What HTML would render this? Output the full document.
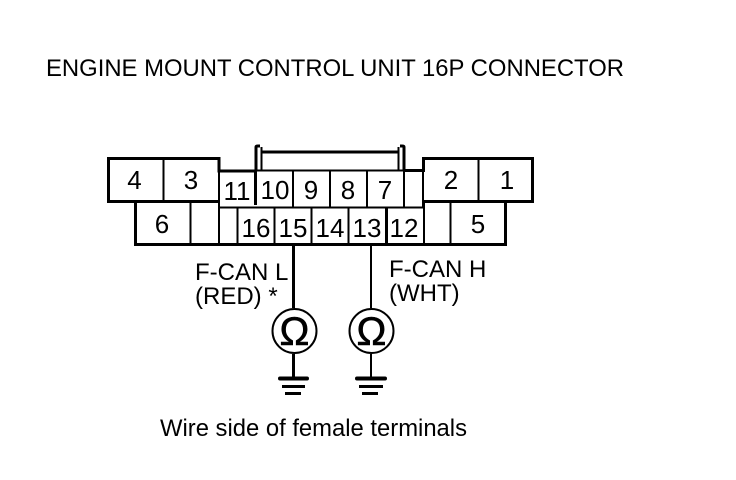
<!DOCTYPE html>
<html><head><meta charset="utf-8"><style>
html,body{margin:0;padding:0;background:#fff}
svg{display:block}
text{font-family:"Liberation Sans",sans-serif;fill:#000}
</style></head><body>
<svg width="736" height="480" viewBox="0 0 736 480" xmlns="http://www.w3.org/2000/svg">
<rect width="736" height="480" fill="#fff"/>
<text x="46" y="76" font-size="24" textLength="578" lengthAdjust="spacingAndGlyphs">ENGINE MOUNT CONTROL UNIT 16P CONNECTOR</text>
<g fill="none" stroke="#000" stroke-width="3">
<path d="M219 158.500H108.500V201.500H135.500V244.500H505.500V201.500H532.500V158.500H423.500V170.500H405"/>
<path d="M219 157V171H256"/>
<path d="M256 171V147Q256 146 258 146H260"/>
<path d="M404 171V147Q404 146 402 146H400"/>
<path d="M262 152H398"/>
<path d="M135 201.500H219M422 201.500H532"/>
<path d="M255.500 171V205"/>
<path d="M386.500 207V244"/>
<path d="M293.500 245V308M293.500 354V378"/>
</g>
<g fill="none" stroke="#000" stroke-width="2">
<path d="M256 170.500H405"/>
<path d="M163.500 158V201M478.500 158V201M219 170V207M293 171V207M330 171V207M367 171V207M404 171V207M423 158V207"/>
<path d="M219 207.500H424"/>
<path d="M190.500 202V244M219 202V244M237.500 208V244M274.500 208V244M311.500 208V244M348.500 208V244M424 202V244M450.500 202V244"/>
<path d="M261.500 147V171M398.500 147V171"/>
<path d="M371 245V308M371 354V378"/>
<circle cx="294.500" cy="331" r="22"/>
<circle cx="371.500" cy="331" r="22"/>
</g>
<g fill="#000">
<rect x="278" y="376.500" width="31" height="4" rx="2"/>
<rect x="282" y="385" width="23" height="3"/>
<rect x="285" y="392" width="16" height="3"/>
<rect x="355" y="376.500" width="32" height="4" rx="2"/>
<rect x="359" y="385" width="24" height="3"/>
<rect x="362" y="392" width="16" height="3"/>
</g>
<g font-size="26" text-anchor="middle">
<text x="134.500" y="189">4</text>
<text x="191" y="189">3</text>
<text x="451" y="189">2</text>
<text x="507" y="189">1</text>
<text x="162" y="233">6</text>
<text x="478" y="233">5</text>
<text x="237" y="200">11</text>
<text x="275" y="199">10</text>
<text x="311" y="199">9</text>
<text x="348" y="199">8</text>
<text x="385" y="199">7</text>
<text x="256" y="237">16</text>
<text x="293" y="237">15</text>
<text x="330" y="237">14</text>
<text x="367" y="237">13</text>
<text x="404" y="237">12</text>
</g>
<g font-size="24">
<text x="195" y="280">F-CAN L</text>
<text x="195" y="304">(RED) *</text>
<text x="389" y="277">F-CAN H</text>
<text x="389" y="301">(WHT)</text>
<text x="160" y="436" textLength="307" lengthAdjust="spacingAndGlyphs">Wire side of female terminals</text>
</g>
<g font-size="40" text-anchor="middle" stroke="#000" stroke-width="0.6">
<text x="294.500" y="345">Ω</text>
<text x="371.500" y="345">Ω</text>
</g>
</svg>
</body></html>
